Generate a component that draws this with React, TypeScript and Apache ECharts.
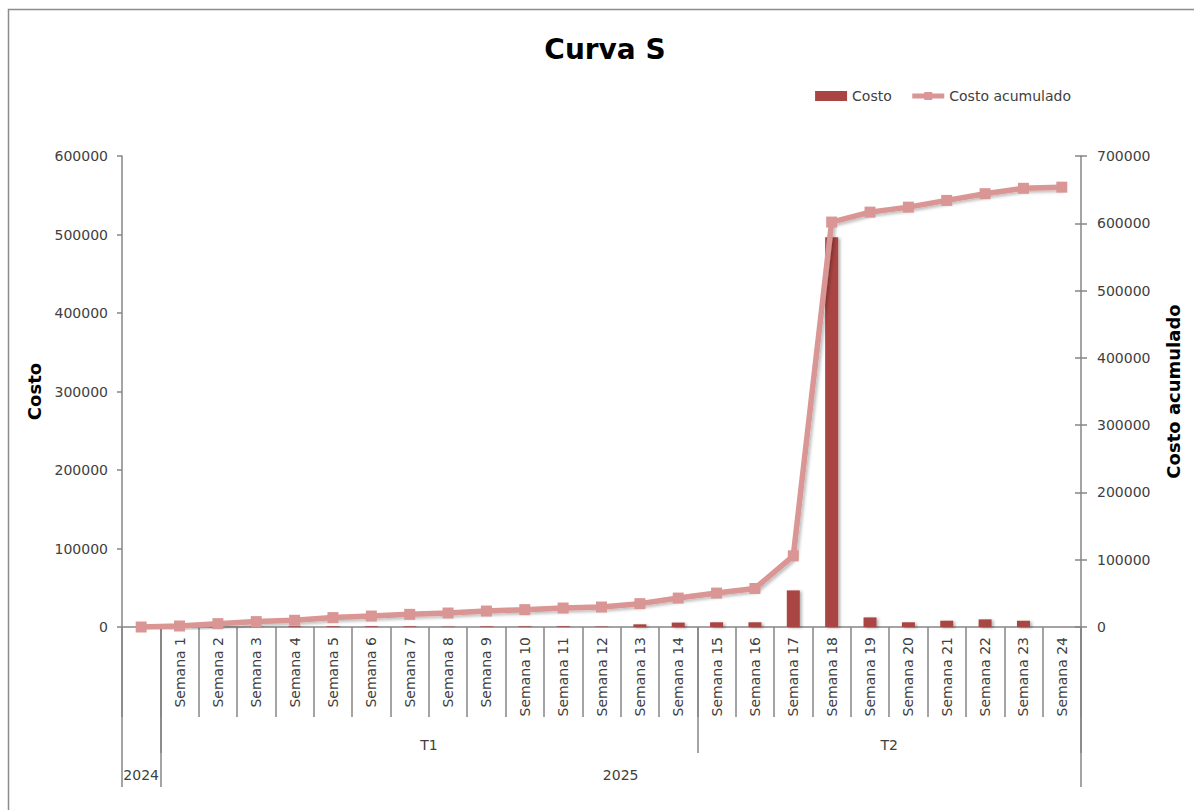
import { useEffect, useRef } from 'react';
import * as echarts from 'echarts';

const categories = [
  '', 'Semana 1', 'Semana 2', 'Semana 3', 'Semana 4', 'Semana 5', 'Semana 6',
  'Semana 7', 'Semana 8', 'Semana 9', 'Semana 10', 'Semana 11', 'Semana 12',
  'Semana 13', 'Semana 14', 'Semana 15', 'Semana 16', 'Semana 17', 'Semana 18',
  'Semana 19', 'Semana 20', 'Semana 21', 'Semana 22', 'Semana 23', 'Semana 24',
];
const costo = [
  0, 500, 500, 600, 800, 900, 900, 800, 500, 700, 800, 900, 600,
  3400, 5600, 6000, 6000, 46600, 496500, 12200, 6000, 8000, 9700, 8000, 0,
];
const costoAcumulado = [
  0, 1500, 5000, 8000, 10000, 14000, 16300, 18800, 20800, 23700, 25800, 28200, 29700,
  34700, 43000, 50400, 57300, 105800, 601800, 616600, 624000, 634000, 644000, 652000, 653700,
];
const yearLabels = ['2024', '2025'];
const yearSpans = [1, 24];
const quarterLabels = ['T1', 'T2'];
const quarterSpans = [14, 10];
const quarterStart = 1;
const leftMax = 600000;
const rightMax = 700000;
const yStep = 100000;

function layoutSpans(start: number, counts: number[]) {
  const bounds = [start];
  const centers: number[] = [];
  let pos = start;
  counts.forEach((c) => {
    centers.push(pos + c / 2);
    pos += c;
    bounds.push(pos);
  });
  return { bounds, centers };
}

const FONT = 'DejaVu Sans';
const GRAY = '#868686';
const TEXT = '#404040';
const BAR = '#A94442';
const LINE = '#D99694';
const plain = (v: number) => String(v);

export default function App() {
  const ref = useRef<HTMLDivElement>(null);
  useEffect(() => {
    if (!ref.current) return;
    const chart = echarts.init(ref.current, null, { renderer: 'svg' });
    const years = layoutSpans(0, yearSpans);
    const quarters = layoutSpans(quarterStart, quarterSpans);
    const n = categories.length;
    chart.setOption({
      animation: false,
      backgroundColor: '#ffffff',
      textStyle: { fontFamily: FONT },
      title: {
        text: 'Curva S',
        left: 600,
        textAlign: 'center',
        top: 30,
        textStyle: { fontFamily: FONT, fontWeight: 'bold', fontSize: 28, color: '#000' },
      },
      legend: {
        right: 118,
        top: 84,
        itemWidth: 32,
        itemHeight: 10,
        itemGap: 18,
        textStyle: { fontFamily: FONT, fontSize: 14, color: TEXT },
        data: [
          { name: 'Costo', icon: 'rect' },
          { name: 'Costo acumulado', lineStyle: { width: 5 } },
        ],
      },
      graphic: [
        {
          type: 'rect',
          shape: { x: 8.5, y: 9.5, width: 1200, height: 820 },
          style: { fill: 'none', stroke: '#8c8c8c', lineWidth: 1.5 },
          silent: true,
        },
      ],
      grid: { left: 122, right: 113, top: 156, bottom: 183 },
      xAxis: [
        {
          type: 'category',
          position: 'bottom',
          data: categories,
          boundaryGap: true,
          axisLine: { onZero: false, lineStyle: { color: GRAY, width: 1.5 } },
          axisTick: {
            show: true,
            interval: 0,
            length: 90,
            alignWithLabel: false,
            lineStyle: { color: GRAY, width: 1.5 },
          },
          axisLabel: {
            interval: 0,
            rotate: 90,
            margin: 10,
            fontFamily: FONT,
            fontSize: 14,
            color: TEXT,
          },
        },
        {
          type: 'value',
          position: 'bottom',
          min: 0,
          max: n,
          splitLine: { show: false },
          axisLine: { show: false, onZero: false },
          axisTick: {
            show: true,
            length: 126,
            customValues: quarters.bounds,
            lineStyle: { color: GRAY, width: 1.5 },
          },
          axisLabel: {
            customValues: quarters.centers,
            margin: 111,
            fontFamily: FONT,
            fontSize: 14,
            color: TEXT,
            formatter: (v: number) => quarterLabels[quarters.centers.indexOf(v)] ?? '',
          },
        },
        {
          type: 'value',
          position: 'bottom',
          min: 0,
          max: n,
          splitLine: { show: false },
          axisLine: { show: false, onZero: false },
          axisTick: {
            show: true,
            length: 160,
            customValues: years.bounds,
            lineStyle: { color: GRAY, width: 1.5 },
          },
          axisLabel: {
            customValues: years.centers,
            margin: 141,
            fontFamily: FONT,
            fontSize: 14,
            color: TEXT,
            formatter: (v: number) => yearLabels[years.centers.indexOf(v)] ?? '',
          },
        },
      ],
      yAxis: [
        {
          type: 'value',
          position: 'left',
          min: 0,
          max: leftMax,
          interval: yStep,
          name: 'Costo',
          nameLocation: 'middle',
          nameRotate: 90,
          nameGap: 74,
          nameTextStyle: { fontFamily: FONT, fontWeight: 'bold', fontSize: 18, color: '#000' },
          splitLine: { show: false },
          axisLine: { show: true, onZero: false, lineStyle: { color: GRAY, width: 1.5 } },
          axisTick: { show: true, length: 5, lineStyle: { color: GRAY, width: 1.5 } },
          axisLabel: { margin: 14, fontFamily: FONT, fontSize: 14, color: TEXT, formatter: plain },
        },
        {
          type: 'value',
          position: 'right',
          min: 0,
          max: rightMax,
          interval: yStep,
          name: 'Costo acumulado',
          nameLocation: 'middle',
          nameRotate: 90,
          nameGap: 83,
          nameTextStyle: { fontFamily: FONT, fontWeight: 'bold', fontSize: 18, color: '#000' },
          splitLine: { show: false },
          axisLine: { show: true, onZero: false, lineStyle: { color: GRAY, width: 1.5 } },
          axisTick: { show: true, length: 6, lineStyle: { color: GRAY, width: 1.5 } },
          axisLabel: { margin: 16, fontFamily: FONT, fontSize: 14, color: TEXT, formatter: plain },
        },
        {
          type: 'value',
          position: 'right',
          min: 0,
          max: rightMax,
          interval: yStep,
          splitLine: { show: false },
          axisLine: { show: false, onZero: false },
          axisTick: { show: true, inside: true, length: 6, lineStyle: { color: GRAY, width: 1.5 } },
          axisLabel: { show: false },
        },
      ],
      series: [
        {
          name: 'Costo',
          type: 'bar',
          xAxisIndex: 0,
          yAxisIndex: 0,
          data: costo,
          barWidth: 13,
          itemStyle: {
            color: BAR,
            shadowColor: 'rgba(0,0,0,0.3)',
            shadowBlur: 3,
            shadowOffsetX: 2,
            shadowOffsetY: 1,
          },
        },
        {
          name: 'Costo acumulado',
          type: 'line',
          xAxisIndex: 0,
          yAxisIndex: 1,
          data: costoAcumulado,
          symbol: 'rect',
          symbolSize: 11,
          z: 3,
          lineStyle: {
            color: LINE,
            width: 5.5,
            shadowColor: 'rgba(0,0,0,0.25)',
            shadowBlur: 3,
            shadowOffsetX: 2,
            shadowOffsetY: 2,
          },
          itemStyle: { color: LINE },
        },
      ],
    });
    return () => chart.dispose();
  }, []);
  return (
    <div
      ref={ref}
      style={{ position: 'fixed', left: 0, top: 0, width: 1194, height: 810 }}
    />
  );
}
